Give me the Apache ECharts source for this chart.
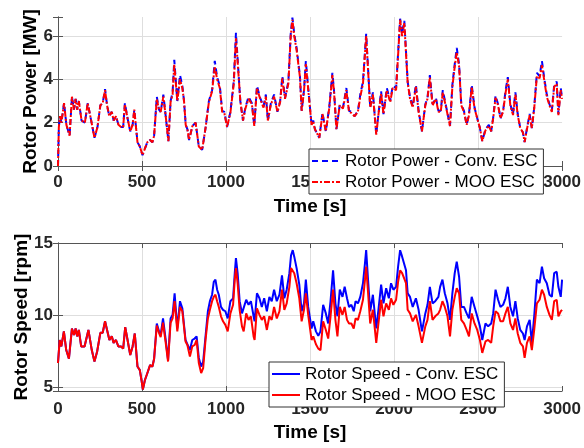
<!DOCTYPE html>
<html lang="en">
<head>
  <meta charset="UTF-8">
  <title>Rotor power and speed</title>
  <style>
    html, body { margin: 0; padding: 0; background: #fff; }
  </style>
</head>
<body>
  <div id="chart" style="width: 584px; height: 448px;"></div>

<script src="https://cdn.jsdelivr.net/npm/echarts@6.0.0/dist/echarts.min.js"></script>
<script>
  // ---- data ----
  const powerTime = [
    0, 5, 12, 20, 36, 50, 69, 83, 95, 105,
    114, 124, 140, 160, 177, 200, 217, 235, 252, 266,
    280, 292, 305, 320, 331, 345, 360, 375, 388, 398,
    414, 430, 444, 454, 473, 487, 503, 517, 532, 548,
    562, 572, 588, 601, 611, 627, 641, 657, 670, 682,
    692, 710, 726, 740, 750, 760, 770, 780, 800, 819,
    838, 858, 878, 898, 917, 933, 947, 963, 977, 990,
    1006, 1026, 1046, 1059, 1071, 1085, 1101, 1115, 1134, 1154,
    1168, 1184, 1203, 1223, 1237, 1249, 1267, 1286, 1306, 1322,
    1335, 1351, 1371, 1385, 1395, 1406, 1420, 1440, 1450, 1464,
    1475, 1489, 1509, 1519, 1529, 1539, 1555, 1574, 1594, 1614,
    1633, 1643, 1657, 1677, 1696, 1716, 1732, 1746, 1765, 1785,
    1799, 1815, 1834, 1844, 1858, 1874, 1894, 1909, 1923, 1937,
    1957, 1977, 1992, 2012, 2028, 2036, 2048, 2061, 2071, 2081,
    2095, 2111, 2130, 2146, 2166, 2186, 2199, 2213, 2229, 2249,
    2264, 2278, 2290, 2311, 2333, 2347, 2361, 2373, 2387, 2400,
    2416, 2432, 2446, 2462, 2479, 2495, 2511, 2525, 2544, 2564,
    2578, 2590, 2604, 2619, 2633, 2649, 2663, 2677, 2692, 2708,
    2722, 2736, 2751, 2767, 2777, 2791, 2807, 2820, 2834, 2850,
    2866, 2880, 2893, 2909, 2925, 2939, 2953, 2968, 2978, 2992,
    3000
  ];
  const powerConv = [
    0.0, 1.8, 2.3, 2.0, 2.9, 1.9, 1.4, 3.2, 2.6, 3.1,
    2.6, 3.0, 2.1, 2.0, 2.9, 2.0, 1.3, 1.8, 2.8, 2.9,
    3.55, 2.8, 2.3, 2.5, 2.1, 2.3, 1.9, 1.8, 1.8, 2.9,
    2.2, 1.6, 1.9, 2.6, 1.1, 0.9, 0.5, 0.8, 1.1, 1.2,
    1.1, 1.4, 3.2, 2.6, 2.5, 3.3, 2.3, 1.15, 3.0, 3.4,
    4.9, 3.0, 4.2, 3.7, 3.0, 1.9, 1.7, 1.2, 1.85, 2.0,
    0.9, 0.75, 1.75, 3.0, 3.5, 4.85, 4.1, 3.7, 2.55, 2.5,
    1.8, 2.5, 3.9, 6.15, 4.7, 3.0, 2.1, 2.7, 3.2, 2.9,
    1.85, 3.7, 3.15, 2.75, 3.3, 2.1, 2.9, 3.3, 2.5, 3.0,
    4.15, 3.15, 3.9, 6.1, 6.85, 6.1, 5.45, 4.15, 2.55, 3.5,
    4.85, 3.6, 1.9, 2.1, 1.7, 1.7, 1.3, 2.45, 1.6, 2.7,
    4.3, 3.45, 1.7, 2.85, 2.7, 3.6, 2.55, 2.5, 2.3, 2.55,
    3.3, 3.9, 6.1, 4.7, 2.7, 3.4, 1.45, 2.55, 3.45, 2.4,
    3.6, 3.0, 3.7, 3.6, 5.75, 6.8, 6.1, 6.7, 5.3, 3.9,
    3.15, 2.75, 3.75, 2.55, 1.6, 2.85, 3.15, 4.2, 2.85, 3.15,
    2.55, 2.55, 3.5, 2.7, 1.85, 3.75, 4.7, 5.45, 4.7, 2.85,
    2.55, 1.9, 2.4, 3.75, 2.7, 2.2, 1.75, 1.15, 1.7, 1.9,
    1.6, 2.25, 3.25, 2.85, 2.2, 2.55, 3.45, 4.1, 2.85, 2.4,
    3.4, 2.4, 1.75, 1.55, 1.1, 1.75, 2.4, 1.75, 2.7, 4.3,
    4.15, 4.85, 4.1, 3.3, 2.85, 2.55, 3.75, 3.9, 2.4, 3.6,
    3.15
  ];
  const powerMoo = [
    0.0, 1.8, 2.3, 2.0, 2.9, 1.9, 1.4, 3.2, 2.6, 3.1,
    2.6, 3.0, 2.1, 2.0, 2.9, 2.0, 1.3, 1.8, 2.8, 2.9,
    3.5, 2.8, 2.3, 2.5, 2.1, 2.3, 1.9, 1.8, 1.8, 2.85,
    2.2, 1.6, 1.9, 2.6, 1.1, 0.9, 0.5, 0.8, 1.1, 1.2,
    1.1, 1.4, 3.1, 2.6, 2.5, 3.2, 2.3, 1.15, 2.95, 3.3,
    4.7, 3.0, 4.0, 3.6, 3.0, 1.9, 1.7, 1.2, 1.85, 2.0,
    0.9, 0.75, 1.75, 2.95, 3.45, 4.6, 4.0, 3.6, 2.5, 2.45,
    1.8, 2.45, 3.8, 5.9, 4.6, 3.0, 2.1, 2.65, 3.1, 2.85,
    1.85, 3.6, 3.1, 2.7, 3.2, 2.1, 2.85, 3.2, 2.5, 2.95,
    4.05, 3.1, 3.8, 6.0, 6.75, 6.0, 5.35, 4.1, 2.55, 3.45,
    4.7, 3.55, 1.9, 2.05, 1.7, 1.7, 1.3, 2.4, 1.6, 2.65,
    4.2, 3.4, 1.7, 2.8, 2.65, 3.5, 2.5, 2.45, 2.3, 2.5,
    3.2, 3.8, 6.0, 4.6, 2.7, 3.3, 1.45, 2.5, 3.35, 2.4,
    3.5, 2.95, 3.6, 3.5, 5.65, 6.75, 6.0, 6.6, 5.2, 3.85,
    3.1, 2.7, 3.65, 2.5, 1.6, 2.8, 3.1, 4.1, 2.8, 3.1,
    2.5, 2.5, 3.4, 2.65, 1.85, 3.65, 4.6, 5.25, 4.6, 2.8,
    2.5, 1.9, 2.35, 3.65, 2.65, 2.2, 1.75, 1.15, 1.65, 1.85,
    1.6, 2.2, 3.15, 2.8, 2.2, 2.5, 3.35, 4.0, 2.8, 2.35,
    3.3, 2.35, 1.75, 1.55, 1.1, 1.7, 2.35, 1.75, 2.65, 4.15,
    4.05, 4.65, 4.0, 3.2, 2.8, 2.5, 3.65, 3.8, 2.35, 3.5,
    3.1
  ];

  const speedTime = [
    0, 10, 20, 35, 49, 65, 83, 95, 105, 114,
    124, 138, 158, 181, 201, 217, 233, 252, 266, 280,
    292, 306, 320, 331, 345, 359, 375, 388, 400, 414,
    430, 444, 457, 473, 487, 497, 505, 517, 532, 548,
    562, 572, 588, 601, 611, 625, 641, 655, 670, 682,
    694, 710, 726, 740, 759, 770, 785, 799, 813, 825,
    838, 852, 864, 878, 892, 904, 917, 927, 937, 947,
    957, 970, 982, 996, 1010, 1026, 1042, 1052, 1059, 1069,
    1081, 1095, 1105, 1120, 1134, 1148, 1164, 1170, 1184, 1199,
    1213, 1227, 1243, 1258, 1272, 1286, 1302, 1318, 1333, 1347,
    1361, 1377, 1387, 1397, 1406, 1420, 1436, 1450, 1464, 1475,
    1489, 1509, 1519, 1535, 1549, 1562, 1578, 1594, 1608, 1622,
    1637, 1651, 1663, 1677, 1693, 1706, 1720, 1732, 1746, 1760,
    1771, 1785, 1799, 1815, 1827, 1834, 1844, 1858, 1874, 1894,
    1907, 1923, 1937, 1953, 1969, 1982, 1996, 2012, 2024, 2036,
    2048, 2059, 2071, 2081, 2095, 2111, 2130, 2146, 2166, 2186,
    2199, 2213, 2229, 2245, 2264, 2274, 2288, 2302, 2318, 2333,
    2347, 2361, 2373, 2387, 2400, 2416, 2432, 2446, 2462, 2479,
    2495, 2511, 2525, 2544, 2560, 2578, 2590, 2604, 2619, 2633,
    2649, 2663, 2677, 2692, 2708, 2722, 2736, 2751, 2767, 2777,
    2791, 2807, 2820, 2834, 2850, 2866, 2880, 2893, 2909, 2925,
    2939, 2953, 2968, 2978, 2992, 3000
  ];
  const speedConv = [
    6.7, 8.3, 7.85, 8.9, 7.6, 7.0, 9.1, 8.65, 9.1, 8.55,
    9.0, 7.85, 7.85, 9.0, 7.6, 6.8, 7.5, 8.8, 8.8, 9.6,
    9.0, 8.3, 8.55, 8.1, 8.3, 7.85, 7.85, 7.7, 9.2, 8.3,
    7.25, 7.85, 8.75, 6.45, 6.2, 5.5, 4.85, 5.5, 6.0, 6.55,
    6.45, 7.0, 9.45, 8.9, 8.65, 9.8, 8.3, 6.9, 9.8, 10.05,
    11.55, 9.1, 11.0, 10.5, 8.3, 8.3, 7.6, 8.3, 8.4, 8.55,
    7.05, 6.45, 6.8, 8.55, 10.3, 11.0, 11.45, 12.35, 12.5, 11.8,
    11.45, 10.6, 10.4, 10.3, 9.8, 11.0, 11.2, 12.95, 14.0, 12.95,
    11.0, 10.15, 10.05, 11.1, 10.75, 11.0, 9.95, 9.6, 11.55, 11.2,
    10.6, 11.2, 10.3, 11.3, 11.0, 11.8, 11.0, 11.45, 12.8, 11.2,
    11.8, 12.95, 14.2, 14.55, 14.1, 13.3, 12.15, 10.3, 10.85, 12.5,
    10.6, 9.1, 9.6, 8.9, 8.6, 8.9, 10.75, 10.15, 9.45, 11.0,
    13.15, 10.85, 9.95, 11.8, 11.3, 12.0, 11.2, 10.6, 10.75, 10.3,
    11.0, 10.85, 11.3, 12.25, 13.65, 14.55, 12.7, 10.3, 11.45, 9.1,
    10.4, 12.15, 10.85, 11.9, 11.2, 12.25, 11.8, 12.0, 13.4, 14.55,
    14.1, 14.2, 13.15, 11.55, 11.3, 10.6, 11.2, 10.4, 8.9, 10.15,
    10.75, 12.0, 10.85, 11.0, 11.3, 12.0, 12.5, 11.55, 10.85, 9.7,
    11.55, 12.95, 13.75, 12.7, 10.6, 10.6, 10.15, 9.8, 11.3, 10.6,
    9.95, 9.25, 8.3, 9.45, 9.25, 9.45, 10.15, 11.8, 11.1, 10.6,
    10.75, 11.2, 12.0, 10.6, 9.95, 11.0, 9.8, 9.0, 8.75, 8.3,
    9.25, 9.7, 8.1, 9.95, 12.5, 12.25, 13.4, 12.6, 12.25, 11.45,
    11.3, 12.95, 13.05, 12.0, 11.3, 12.5
  ];
  const speedMoo = [
    6.7, 8.3, 7.85, 8.9, 7.6, 7.0, 9.1, 8.65, 9.1, 8.55,
    9.0, 7.85, 7.85, 9.0, 7.6, 6.8, 7.5, 8.8, 8.8, 9.6,
    9.0, 8.3, 8.55, 8.1, 8.3, 7.85, 7.85, 7.7, 9.2, 8.3,
    7.25, 7.85, 8.75, 6.45, 6.2, 5.5, 4.85, 5.5, 6.0, 6.55,
    6.45, 7.0, 9.3, 8.8, 8.5, 9.5, 8.1, 6.8, 9.5, 9.8,
    11.0, 8.9, 10.6, 10.3, 8.2, 7.95, 7.15, 7.85, 7.95, 8.3,
    6.7, 6.0, 6.35, 8.3, 9.8, 10.4, 11.0, 11.3, 11.45, 11.0,
    10.6, 9.95, 9.6, 9.35, 8.9, 10.15, 10.75, 12.5, 13.3, 12.25,
    10.4, 9.25, 8.9, 10.15, 9.7, 9.95, 8.55, 8.3, 10.5, 10.05,
    9.7, 9.95, 9.0, 9.95, 9.7, 10.6, 9.8, 10.3, 11.8, 10.4,
    10.85, 12.0, 13.3, 13.4, 12.95, 12.25, 11.2, 9.6, 10.4, 11.55,
    10.05, 8.3, 8.55, 8.0, 7.7, 7.6, 9.6, 9.0, 8.4, 9.95,
    11.8, 9.7, 8.55, 10.6, 10.05, 10.6, 9.7, 9.45, 9.45, 9.1,
    9.8, 9.7, 10.3, 11.1, 12.5, 13.4, 11.8, 9.45, 10.4, 8.1,
    9.45, 11.1, 9.95, 10.85, 10.4, 11.2, 10.75, 11.1, 12.35, 13.15,
    12.95, 13.05, 12.25, 10.4, 10.15, 9.6, 10.05, 9.25, 8.1, 9.25,
    9.7, 11.0, 9.7, 9.95, 10.15, 10.4, 11.0, 10.6, 9.95, 8.55,
    10.4, 11.3, 11.9, 11.55, 9.7, 9.45, 9.0, 8.55, 10.15, 9.45,
    9.0, 8.3, 7.4, 8.2, 8.3, 8.1, 9.25, 10.3, 10.15, 9.6,
    9.6, 10.15, 10.6, 9.45, 9.0, 9.8, 8.75, 8.1, 7.85, 7.05,
    8.1, 8.55, 7.6, 9.0, 10.85, 11.1, 11.8, 11.45, 10.6, 10.05,
    9.7, 11.0, 11.1, 9.95, 10.3, 10.4
  ];

  const timeTicks = [0, 500, 1000, 1500, 2000, 2500, 3000];
  const powerTicks = [0, 2, 4, 6];
  const speedTicks = [5, 10, 15];

  const legendPower = ['Rotor Power - Conv. ESC', 'Rotor Power - MOO ESC'];
  const legendSpeed = ['Rotor Speed - Conv. ESC', 'Rotor Speed - MOO ESC'];

  // ---- chart ----
  const FONT = '"Liberation Sans", Arial, Helvetica, sans-serif';
  const BOX = '#555';
  const GRIDLINE = '#dedede';

  const pairs = (t, v) => t.map((x, i) => [x, v[i]]);

  function mainX(grid, gap, margin) {
    return {
      gridIndex: grid, type: 'value', position: 'bottom',
      min: 0, max: 3000, interval: 500,
      name: 'Time [s]', nameLocation: 'middle', nameGap: gap,
      nameTextStyle: { fontFamily: FONT, fontSize: 19, fontWeight: 'bold', color: '#000' },
      axisLine: { show: true, lineStyle: { color: BOX } },
      axisTick: { inside: true, length: 5, lineStyle: { color: BOX } },
      axisLabel: {
        margin: margin, fontFamily: FONT, fontSize: 17, fontWeight: 'bold', color: '#262626',
        formatter: v => (timeTicks.includes(v) ? String(v) : '')
      },
      splitLine: { show: true, showMinLine: false, showMaxLine: false, lineStyle: { color: GRIDLINE } }
    };
  }
  function boxX(grid) {
    return {
      gridIndex: grid, type: 'value', position: 'top', min: 0, max: 3000, interval: 500,
      axisLine: { show: true, lineStyle: { color: BOX } },
      axisTick: { inside: true, length: 5, lineStyle: { color: BOX } },
      axisLabel: { show: false }, splitLine: { show: false }
    };
  }
  function mainY(grid, name, min, max, ticks, gap) {
    return {
      gridIndex: grid, type: 'value', position: 'left', min: min, max: max,
      splitNumber: ticks.length - 1,
      name: name, nameLocation: 'middle', nameGap: gap, nameMoveOverlap: false,
      nameTextStyle: { fontFamily: FONT, fontSize: 19, fontWeight: 'bold', color: '#000' },
      axisLine: { show: true, lineStyle: { color: BOX } },
      axisTick: { inside: true, length: 5, lineStyle: { color: BOX } },
      axisLabel: {
        margin: 5, fontFamily: FONT, fontSize: 17, fontWeight: 'bold', color: '#262626',
        formatter: v => (ticks.includes(v) ? String(v) : '')
      },
      splitLine: { show: true, showMinLine: false, showMaxLine: false, lineStyle: { color: GRIDLINE } }
    };
  }
  function boxY(grid, min, max, ticks) {
    return {
      gridIndex: grid, type: 'value', position: 'right', min: min, max: max,
      splitNumber: ticks.length - 1,
      axisLine: { show: true, lineStyle: { color: BOX } },
      axisTick: { inside: true, length: 5, lineStyle: { color: BOX } },
      axisLabel: { show: false }, splitLine: { show: false }
    };
  }
  function legendBox(names, left, top) {
    return {
      data: names, orient: 'vertical', left: left, top: top,
      backgroundColor: '#fff', borderColor: '#333', borderWidth: 1,
      padding: [2, 6, 2, 2], itemWidth: 28, itemHeight: 14, itemGap: 1,
      selectedMode: false,
      itemStyle: { opacity: 0 },
      textStyle: { fontFamily: FONT, fontSize: 17, color: '#000', lineHeight: 20 }
    };
  }
  function lineSeries(name, xi, yi, data, color, dash) {
    return {
      name: name, type: 'line', xAxisIndex: xi, yAxisIndex: yi,
      data: data, showSymbol: false, symbol: 'none', animation: false,
      lineStyle: { color: color, width: 2, type: dash },
      itemStyle: { color: color }
    };
  }

  const myChart = echarts.init(document.getElementById('chart'));
  const option = {
    backgroundColor: '#fff',
    animation: false,
    grid: [
      { left: 58, right: 20, top: 17, height: 149 },
      { left: 58, right: 20, top: 243, height: 148 }
    ],
    legend: [
      legendBox(legendPower, 309, 149),
      legendBox(legendSpeed, 269, 362)
    ],
    xAxis: [mainX(0, 31, 8), boxX(0), mainX(1, 32, 10), boxX(1)],
    yAxis: [
      mainY(0, 'Rotor Power [MW]', 0, 6.88, powerTicks, 18),
      boxY(0, 0, 6.88, powerTicks),
      mainY(1, 'Rotor Speed [rpm]', 4.75, 15.05, speedTicks, 27),
      boxY(1, 4.75, 15.05, speedTicks)
    ],
    series: [
      lineSeries(legendPower[0], 0, 0, pairs(powerTime, powerConv), '#0000ff', [6, 4]),
      lineSeries(legendPower[1], 0, 0, pairs(powerTime, powerMoo), '#ff0000', [6, 2, 2, 2]),
      lineSeries(legendSpeed[0], 2, 2, pairs(speedTime, speedConv), '#0000ff', 'solid'),
      lineSeries(legendSpeed[1], 2, 2, pairs(speedTime, speedMoo), '#ff0000', 'solid')
    ]
  };

  myChart.setOption(option);
</script>
</body>
</html>
